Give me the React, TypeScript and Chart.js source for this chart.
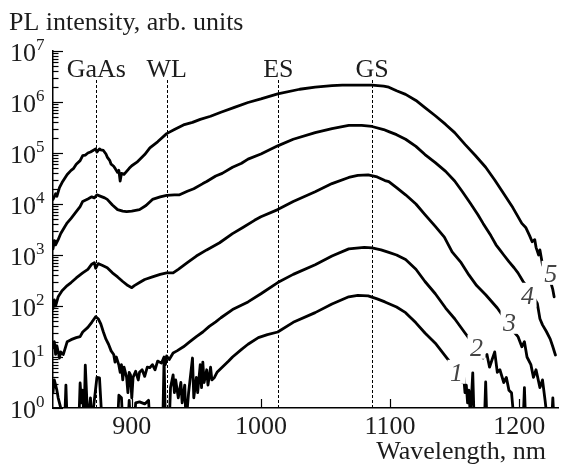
import React, { useEffect, useRef } from "react";
import { Chart, registerables } from "chart.js";

Chart.register(...registerables);

// ---- axis ticks ----
const xTicks = [900, 1000, 1100, 1200];
const yDecades = [0, 1, 2, 3, 4, 5, 6, 7];

// ---- vertical marker lines (wavelength, nm) ----
const markerWl = [872.5, 927, 1013.5, 1086];
const markerNames = ["GaAs", "WL", "ES", "GS"];

// ---- curve number labels (anchor in data units: nm, log10 intensity) ----
const curveNames = ["1", "2", "3", "4", "5"];
const curveLabelWl = [1151.4, 1166.9, 1192.5, 1206.4, 1224.3];
const curveLabelLog = [0.71, 1.2, 1.69, 2.22, 2.65];

// ---- spectra: wavelength (nm) and log10(PL intensity) ----
const wl1 = [839,840,842,843,848,849,850,859,860,861,862,863,864,866,868,869,873,875,877,889,890,892,893,897,898,899,902,903,906,910,913,914,924,925,926,929,930,932,933,934,936,938,939,941,942,944,947,948,950,951,953,954,955,956,958,959,961,962,964,966,970,975,978,985,990,998,1005,1013,1025,1042,1055,1068,1075,1083,1090,1096,1105,1112,1120,1127,1135,1144,1148,1152,1155,1156,1157,1158,1159,1160,1161,1162,1163,1164,1165,1167,1173,1174,1175,1203,1204,1205,1225,1226,1227,1230];
const log1 = [0.3,0.55,0.35,0.2,-0.3,0.45,-0.3,-0.3,0.49,0.1,0.35,-0.3,0.84,-0.3,0.2,-0.3,0.6,0.59,-0.3,-0.3,0.25,0.2,-0.3,-0.3,0.15,-0.3,-0.3,0.1,0.12,0.08,0.15,-0.3,-0.3,0.98,-0.3,-0.3,0.4,0.65,0.3,0.55,0.2,0.5,0.1,0.45,-0.3,0.3,0.98,0.2,0.6,0.3,0.85,0.4,0.9,0.5,0.75,0.45,0.8,0.55,0.6,0.7,0.8,0.92,1.0,1.15,1.25,1.38,1.44,1.49,1.68,1.87,2.04,2.18,2.21,2.2,2.14,2.08,1.98,1.87,1.67,1.47,1.27,0.98,0.85,0.75,0.65,0.5,0.6,0.3,0.45,0.1,0.35,-0.1,0.2,0.69,-0.2,-0.3,-0.3,0.51,-0.3,-0.3,0.4,-0.3,-0.3,0.2,-0.3,-0.3];

const wl2 = [839,840,841,842,844,845,847,850,853,857,860,862,866,869,872,874,876,878,880,882,884,886,887,888,890,891,892,893,894,896,897,898,899,900,901,903,905,906,908,910,912,914,916,918,920,923,925,926,927,929,932,935,940,945,950,955,960,965,969,978,990,1000,1013,1025,1042,1055,1068,1080,1086,1093,1099,1105,1112,1120,1127,1135,1143,1150,1158,1163,1168,1172,1175,1177,1179,1181,1183,1185,1188,1190,1192,1194,1195,1196];
const log2 = [1.18,1.3,1.05,1.22,0.98,1.1,1.05,1.3,1.34,1.38,1.4,1.49,1.58,1.68,1.79,1.75,1.65,1.49,1.35,1.25,1.12,1.05,0.9,1.0,0.84,0.7,0.85,0.55,0.8,0.6,0.3,0.7,0.65,0.2,0.6,0.72,0.55,0.7,0.75,0.62,0.8,0.79,0.85,0.75,0.92,0.88,1.0,0.85,1.02,0.95,1.08,1.12,1.2,1.3,1.4,1.49,1.6,1.69,1.77,1.93,2.08,2.24,2.46,2.62,2.81,2.98,3.12,3.15,3.14,3.1,3.05,3.0,2.91,2.72,2.48,2.24,1.96,1.75,1.47,1.3,1.15,0.98,1.05,0.8,0.95,1.1,0.7,0.75,0.5,0.6,0.35,0.3,0.02,-0.3];

const wl3 = [839,840,841,843,846,850,853,857,862,866,869,871,872,874,877,881,885,889,893,897,900,902,906,910,916,922,927,932,936,943,950,958,968,978,986,995,1000,1013,1025,1042,1055,1068,1075,1083,1090,1096,1099,1105,1112,1120,1127,1135,1142,1148,1155,1161,1167,1174,1183,1188,1192,1196,1199,1202,1204,1206,1209,1211,1213,1216,1218,1220,1222];
const log3 = [1.95,2.12,2.0,2.18,2.3,2.4,2.46,2.55,2.65,2.72,2.82,2.85,2.74,2.83,2.8,2.75,2.65,2.57,2.48,2.4,2.36,2.4,2.46,2.52,2.57,2.62,2.65,2.65,2.72,2.85,2.98,3.1,3.24,3.42,3.54,3.68,3.75,3.89,4.05,4.24,4.4,4.52,4.56,4.57,4.53,4.46,4.44,4.32,4.18,4.0,3.79,3.56,3.35,3.06,2.85,2.61,2.4,2.22,1.96,1.78,1.62,1.49,1.4,1.2,1.3,1.0,0.85,0.6,0.75,0.4,0.55,0.15,-0.3];

const wl4 = [839,840,841,843,845,848,850,853,857,860,862,866,869,871,873,875,877,879,881,885,889,893,896,900,906,911,916,922,927,933,937,943,948,955,958,965,970,978,985,990,1000,1013,1025,1042,1055,1068,1078,1086,1095,1099,1105,1112,1120,1127,1135,1143,1150,1156,1162,1168,1172,1174,1178,1182,1185,1188,1192,1196,1199,1203,1207,1211,1214,1216,1218,1221,1224,1226,1228];
const log4 = [3.12,3.28,3.2,3.3,3.42,3.55,3.63,3.72,3.85,3.95,4.05,4.1,4.14,4.12,4.18,4.16,4.14,4.12,4.09,3.98,3.89,3.86,3.85,3.86,3.89,3.97,4.09,4.14,4.17,4.18,4.18,4.25,4.3,4.4,4.44,4.55,4.6,4.72,4.8,4.88,4.98,5.14,5.27,5.4,5.48,5.54,5.54,5.52,5.46,5.42,5.36,5.27,5.13,4.97,4.81,4.64,4.45,4.24,4.02,3.79,3.62,3.54,3.38,3.2,3.1,3.0,2.87,2.75,2.65,2.48,2.35,2.18,2.05,1.75,1.63,1.5,1.35,1.2,1.04];

const wl5 = [839,841,842,844,846,848,850,853,855,857,860,862,864,866,868,870,872,873,875,876,878,880,881,883,884,886,887,889,890,891,892,894,896,898,900,904,910,914,920,927,933,940,947,953,961,969,980,990,1000,1013,1030,1042,1055,1063,1075,1086,1095,1099,1105,1112,1120,1127,1135,1143,1150,1158,1166,1174,1181,1187,1195,1202,1205,1208,1210,1212,1213,1215,1216,1218,1220,1222,1224,1226,1227];
const log5 = [4.09,4.2,4.15,4.32,4.42,4.5,4.58,4.66,4.7,4.78,4.85,4.95,4.96,5.0,5.02,5.05,5.08,5.02,5.08,5.06,5.05,4.98,4.92,4.85,4.78,4.74,4.7,4.62,4.66,4.45,4.6,4.58,4.64,4.7,4.75,4.82,4.97,5.1,5.22,5.38,5.46,5.55,5.6,5.66,5.72,5.8,5.9,5.99,6.06,6.16,6.25,6.29,6.32,6.33,6.33,6.33,6.31,6.29,6.22,6.15,6.03,5.89,5.73,5.56,5.4,5.17,4.95,4.72,4.47,4.24,3.93,3.62,3.54,3.38,3.26,3.3,3.15,3.0,3.1,2.81,2.7,2.6,2.5,2.32,2.18];

const seriesWl = [wl1, wl2, wl3, wl4, wl5];
const seriesLog = [log1, log2, log3, log4, log5];

const yTitle = "PL intensity, arb. units";
const xTitle = "Wavelength, nm";

const FONT = "'Liberation Serif', 'Times New Roman', Times, serif";
const TEXT = "#1c1c1c";

function toPoints(wl: number[], lg: number[]) {
  return wl.map((w, i) => ({ x: w, y: Math.pow(10, lg[i]) }));
}

const decorPlugin = {
  id: "decor",
  beforeDatasetsDraw(chart: any) {
    const { ctx, chartArea, scales } = chart;
    const x = scales.x;
    ctx.save();
    ctx.strokeStyle = "#000";
    ctx.lineWidth = 1;
    ctx.setLineDash([3, 2]);
    markerWl.forEach((w) => {
      const px = Math.round(x.getPixelForValue(w)) + 0.5;
      ctx.beginPath();
      ctx.moveTo(px, chartArea.top + 29);
      ctx.lineTo(px, chartArea.bottom);
      ctx.stroke();
    });
    ctx.restore();
  },
  afterDatasetsDraw(chart: any) {
    const { ctx, chartArea, scales } = chart;
    const x = scales.x;
    const y = scales.y;
    const L = chartArea.left;
    const B = chartArea.bottom;
    const seg = (x1: number, y1: number, x2: number, y2: number) => {
      ctx.beginPath();
      ctx.moveTo(x1, y1);
      ctx.lineTo(x2, y2);
      ctx.stroke();
    };
    ctx.save();
    ctx.strokeStyle = "#000";
    ctx.lineWidth = 1.2;
    yDecades.forEach((d) => {
      const py = Math.round(y.getPixelForValue(Math.pow(10, d))) + 0.5;
      seg(L, py, L + 10, py);
      if (d < 7) {
        for (let k = 2; k <= 9; k++) {
          const pm = Math.round(y.getPixelForValue(k * Math.pow(10, d))) + 0.5;
          seg(L, pm, L + 5.5, pm);
        }
      }
    });
    xTicks.forEach((v) => {
      const px = Math.round(x.getPixelForValue(v)) + 0.5;
      seg(px, B, px, B - 9);
    });

    // y tick labels with superscript exponents
    ctx.fillStyle = TEXT;
    yDecades.forEach((d) => {
      const py = y.getPixelForValue(Math.pow(10, d));
      ctx.font = `26px ${FONT}`;
      ctx.textAlign = "right";
      ctx.textBaseline = "alphabetic";
      ctx.fillText("10", 36, py + 9.5);
      ctx.font = `17px ${FONT}`;
      ctx.textAlign = "left";
      ctx.fillText(String(d), 36, py - 1);
    });

    // axis titles
    ctx.font = `26px ${FONT}`;
    ctx.textAlign = "left";
    ctx.fillText(yTitle, 9, 30);
    ctx.textAlign = "right";
    ctx.fillText(xTitle, 546, 459);

    // marker labels
    ctx.textAlign = "center";
    markerWl.forEach((w, i) => {
      ctx.fillText(markerNames[i], x.getPixelForValue(w), chartArea.top + 26);
    });

    // curve numbers (italic) with white masks
    ctx.font = `italic 26px ${FONT}`;
    curveNames.forEach((n, i) => {
      const cx = x.getPixelForValue(curveLabelWl[i]);
      const cy = y.getPixelForValue(Math.pow(10, curveLabelLog[i]));
      ctx.fillStyle = "#fff";
      ctx.fillRect(cx - 9, cy - 12, 18, 24);
      ctx.fillStyle = "#444";
      ctx.textAlign = "center";
      ctx.fillText(n, cx, cy + 8.8);
    });
    ctx.restore();
  },
};

export default function App() {
  const ref = useRef<HTMLCanvasElement | null>(null);

  useEffect(() => {
    if (!ref.current) return;
    const chart = new Chart(ref.current, {
      type: "line",
      data: {
        datasets: seriesWl.map((wl, i) => ({
          label: curveNames[i],
          data: toPoints(wl, seriesLog[i]),
          borderColor: "#000",
          borderWidth: 2.8,
          pointRadius: 0,
          tension: 0,
          fill: false,
          borderJoinStyle: "round" as const,
          borderCapStyle: "round" as const,
        })),
      },
      options: {
        responsive: false,
        animation: false,
        events: [],
        layout: { padding: { top: 51, right: 7, left: 0, bottom: 0 } },
        plugins: {
          legend: { display: false },
          tooltip: { enabled: false },
          title: { display: false },
        },
        scales: {
          x: {
            type: "linear",
            min: 839,
            max: 1230,
            grid: { display: false, drawTicks: false },
            border: { display: true, color: "#000", width: 1.5 },
            ticks: {
              font: { family: FONT, size: 26 },
              color: TEXT,
              padding: 4,
              maxRotation: 0,
              autoSkip: false,
              callback: (v: any) => String(v),
            },
            afterBuildTicks: (s: any) => {
              s.ticks = xTicks.map((v) => ({ value: v }));
            },
            afterFit: (s: any) => {
              s.height = 65;
            },
          },
          y: {
            type: "logarithmic",
            min: 1,
            max: 1e7,
            grid: { display: false, drawTicks: false },
            border: { display: true, color: "#000", width: 1.5 },
            ticks: { display: false },
            afterFit: (s: any) => {
              s.width = 53;
            },
          },
        },
      },
      plugins: [decorPlugin],
    });
    return () => chart.destroy();
  }, []);

  return (
    <div style={{ position: "absolute", left: 0, top: 0, width: 565, height: 473, background: "#fff" }}>
      <canvas ref={ref} width={565} height={473} style={{ display: "block" }} />
    </div>
  );
}
